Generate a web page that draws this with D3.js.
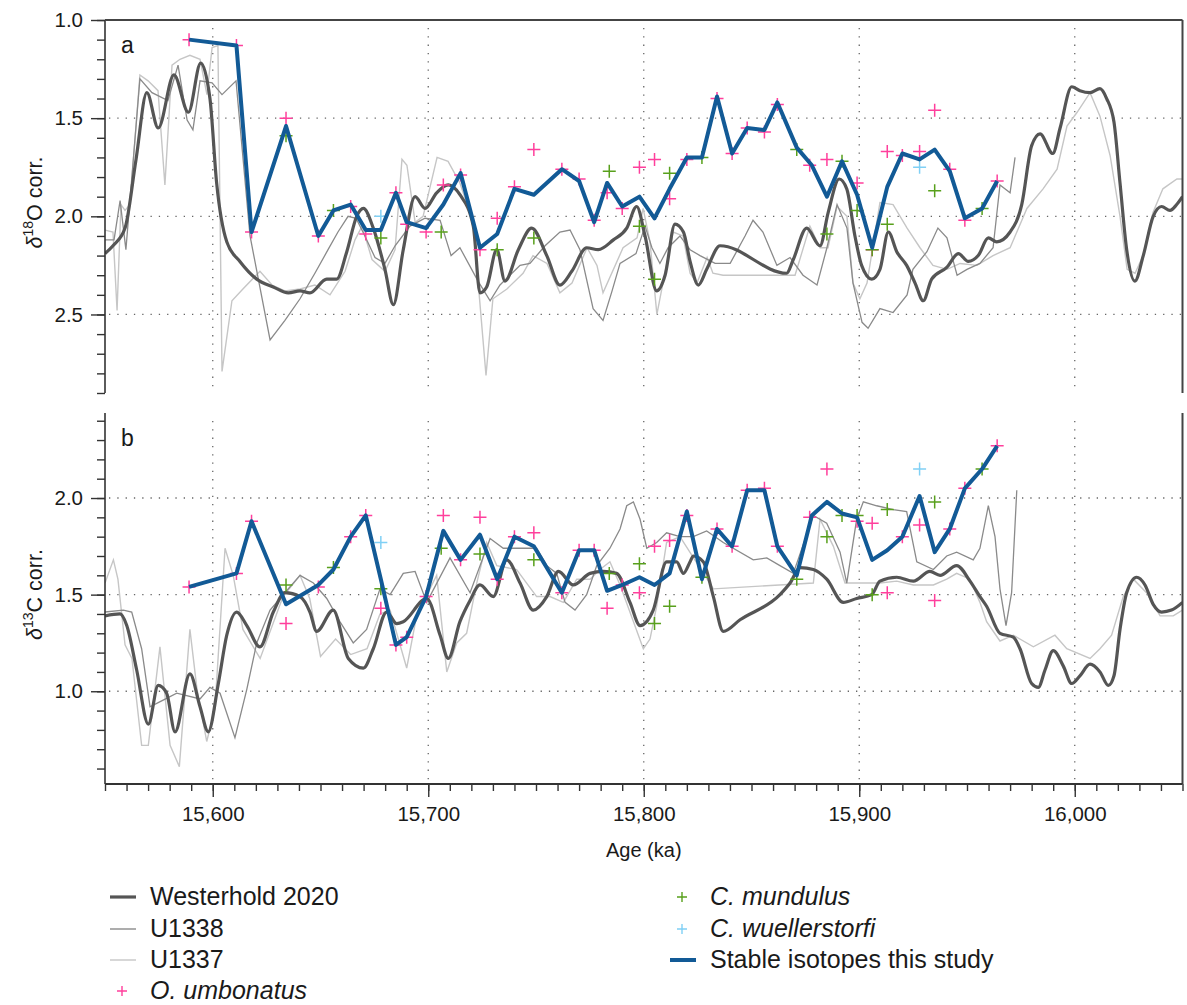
<!DOCTYPE html>
<html lang="en">
<head>
<meta charset="UTF-8">
<title>Stable isotopes</title>
<style>
  body { margin: 0; background: #fff; }
  svg text { font-family: "Liberation Sans", Arial, Helvetica, sans-serif; fill: #1a1a1a; }
</style>
</head>
<body>
<script src="https://d3js.org/d3.v7.min.js"></script>
<script>
// ---- data (age ka, value) ----
const studyAge = [15589, 15611, 15618, 15634, 15649, 15656, 15664, 15671, 15678, 15685, 15690, 15699, 15707, 15715, 15724, 15732, 15740, 15749, 15762, 15770, 15777, 15783, 15790, 15798, 15805, 15812, 15820, 15827, 15834, 15841, 15848, 15856, 15862, 15871, 15878, 15885, 15892, 15899, 15906, 15913, 15920, 15928, 15935, 15942, 15949, 15957, 15964];
const studyD18O = [1.10, 1.13, 2.08, 1.54, 2.10, 1.97, 1.94, 2.07, 2.07, 1.88, 2.03, 2.06, 1.94, 1.78, 2.16, 2.09, 1.86, 1.89, 1.76, 1.82, 2.03, 1.83, 1.95, 1.90, 2.01, 1.86, 1.70, 1.70, 1.39, 1.68, 1.55, 1.56, 1.42, 1.65, 1.74, 1.90, 1.72, 1.89, 2.16, 1.85, 1.68, 1.71, 1.66, 1.77, 2.01, 1.96, 1.82];
const studyD13C = [1.54, 1.61, 1.88, 1.45, 1.55, 1.63, 1.80, 1.91, 1.58, 1.24, 1.28, 1.49, 1.83, 1.68, 1.81, 1.58, 1.80, 1.75, 1.51, 1.73, 1.73, 1.52, 1.55, 1.59, 1.55, 1.61, 1.93, 1.58, 1.84, 1.75, 2.04, 2.04, 1.75, 1.60, 1.91, 1.98, 1.92, 1.90, 1.68, 1.73, 1.80, 2.01, 1.72, 1.84, 2.05, 2.15, 2.27];

const umbonatusO = [[15589,1.10],[15611,1.13],[15618,2.08],[15634,1.50],[15649,2.10],[15664,1.95],[15671,2.09],[15685,1.88],[15690,2.04],[15699,2.08],[15707,1.84],[15715,1.79],[15724,2.17],[15732,2.01],[15740,1.85],[15749,1.66],[15762,1.76],[15770,1.81],[15777,2.02],[15783,1.88],[15790,1.96],[15798,1.75],[15805,1.71],[15812,1.91],[15820,1.71],[15834,1.40],[15841,1.68],[15848,1.55],[15856,1.57],[15862,1.43],[15877,1.74],[15885,1.71],[15899,1.83],[15906,2.17],[15913,1.67],[15920,1.69],[15928,1.67],[15935,1.46],[15942,1.76],[15949,2.02],[15964,1.82]];
const umbonatusC = [[15589,1.54],[15611,1.61],[15618,1.88],[15634,1.35],[15649,1.54],[15664,1.80],[15671,1.91],[15678,1.43],[15685,1.24],[15690,1.28],[15699,1.49],[15707,1.91],[15715,1.68],[15724,1.90],[15732,1.58],[15740,1.80],[15749,1.82],[15762,1.51],[15770,1.73],[15777,1.73],[15783,1.43],[15790,1.55],[15798,1.51],[15805,1.75],[15812,1.78],[15820,1.91],[15834,1.84],[15841,1.75],[15848,2.04],[15856,2.05],[15862,1.75],[15877,1.90],[15885,2.15],[15899,1.88],[15906,1.87],[15913,1.51],[15920,1.80],[15928,1.86],[15935,1.47],[15942,1.84],[15949,2.05],[15964,2.27]];
const mundulusO = [[15634,1.59],[15656,1.97],[15678,2.11],[15706,2.08],[15732,2.17],[15749,2.11],[15784,1.77],[15798,2.05],[15805,2.32],[15812,1.78],[15827,1.70],[15871,1.66],[15885,2.09],[15892,1.72],[15899,1.97],[15906,2.17],[15913,2.04],[15935,1.87],[15957,1.96]];
const mundulusC = [[15634,1.55],[15656,1.64],[15678,1.53],[15706,1.74],[15724,1.71],[15749,1.68],[15784,1.61],[15798,1.66],[15805,1.35],[15812,1.44],[15827,1.59],[15871,1.58],[15885,1.80],[15892,1.91],[15899,1.91],[15906,1.50],[15913,1.94],[15935,1.98],[15957,2.15]];
const wuellerstorfiO = [[15678,2.00],[15928,1.75]];
const wuellerstorfiC = [[15678,1.77],[15928,2.15]];

const westerholdO = [[15550,2.19],[15553.7,2.15],[15559.3,2.06],[15564.4,1.71],[15569.4,1.37],[15574.7,1.55],[15582,1.28],[15588.7,1.47],[15594.4,1.22],[15598.7,1.40],[15601.8,1.83],[15606.5,2.13],[15612.6,2.23],[15620.4,2.32],[15628.1,2.36],[15635.1,2.39],[15640.5,2.38],[15645.1,2.39],[15652.9,2.32],[15657.5,2.32],[15662.2,2.18],[15666.8,2.00],[15669.9,1.96],[15674.5,2.06],[15679.9,2.27],[15683.8,2.45],[15688.4,2.17],[15693.9,1.90],[15698.5,1.96],[15703.9,1.88],[15709.3,1.84],[15714.7,1.89],[15720.9,2.05],[15724,2.39],[15727.1,2.36],[15731.8,2.17],[15735.6,2.33],[15741.8,2.17],[15748,2.06],[15755,2.20],[15761.1,2.35],[15766.6,2.28],[15773.5,2.16],[15778.9,2.17],[15785.9,2.12],[15792.1,2.06],[15796.7,1.95],[15800.6,2.10],[15806,2.38],[15809.9,2.30],[15814.5,2.04],[15818.4,2.08],[15821.5,2.23],[15825.3,2.35],[15829.2,2.27],[15835.4,2.15],[15866.3,2.29],[15869.4,2.22],[15875.6,2.06],[15881.8,2.15],[15885.6,1.98],[15890.7,1.81],[15894.2,1.86],[15898,2.10],[15901.1,2.25],[15905.8,2.32],[15909.6,2.27],[15913.5,2.08],[15917.4,2.18],[15922,2.25],[15925.9,2.34],[15929.7,2.43],[15933.6,2.32],[15940.6,2.26],[15946,2.19],[15950.6,2.23],[15955.2,2.20],[15959.9,2.11],[15963.8,2.13],[15970,2.08],[15975.4,1.94],[15980,1.64],[15983.9,1.58],[15989.8,1.68],[15993.2,1.55],[15998.6,1.34],[16002.4,1.36],[16007.1,1.37],[16011.7,1.35],[16014.8,1.40],[16018.2,1.52],[16021,1.83],[16024.1,2.17],[16027.9,2.33],[16031.8,2.20],[16036.4,2.00],[16040.3,1.95],[16044.2,1.97],[16047.3,1.94],[16050,1.90]];
const u1338O = [[15550,2.12],[15554.2,2.12],[15557,1.92],[15559.7,2.17],[15566.2,1.30],[15571.8,1.37],[15579.2,1.41],[15583.9,1.23],[15588.1,1.51],[15590.8,1.56],[15594.1,1.31],[15599.7,1.32],[15604.3,1.38],[15610.8,1.31],[15617.3,2.10],[15626.6,2.63],[15633.5,2.53],[15640.5,2.42],[15647.4,2.29],[15653.5,2.17],[15658.1,2.08],[15662.8,2.00],[15666.5,2.01],[15670.6,2.10],[15675.3,2.21],[15679.9,2.24],[15684.6,2.15],[15691.5,2.05],[15698.5,2.01],[15705.5,2.02],[15710.6,2.20],[15714.7,2.16],[15723.1,2.33],[15728.7,2.43],[15733.3,2.35],[15737.9,2.30],[15742.6,2.25],[15747.2,2.24],[15754.2,2.15],[15761.1,2.08],[15765.8,2.07],[15770.4,2.17],[15776.5,2.47],[15781.1,2.53],[15785.3,2.38],[15789,2.24],[15796.4,2.19],[15800.6,2.05],[15803.8,2.16],[15807.5,2.24],[15811.3,2.16],[15816.8,2.10],[15821.5,2.17],[15826.1,2.20],[15833.1,2.24],[15840.1,2.24],[15847,2.10],[15850.7,2.02],[15855.3,2.08],[15861.8,2.25],[15867.9,2.21],[15873.9,2.30],[15880.4,2.35],[15885,2.16],[15889.7,1.94],[15894.3,2.06],[15897.1,2.34],[15901.3,2.54],[15904.1,2.57],[15909.6,2.47],[15915.7,2.49],[15922.2,2.40],[15924.9,2.27],[15931.4,2.18],[15936.5,2.06],[15940.7,2.11],[15945.4,2.30],[15950,2.27],[15956,2.24],[15962.1,2.16],[15965.3,1.84],[15970,1.88],[15972.3,1.70]];
const u1337O = [[15550,2.07],[15553.7,2.08],[15555.6,2.48],[15557.4,1.94],[15559.3,1.97],[15561.6,1.94],[15566.2,1.28],[15570,1.31],[15574.6,1.36],[15577.8,1.84],[15581.1,1.23],[15584.8,1.20],[15589.4,1.18],[15594.1,1.20],[15597.3,1.38],[15599.7,1.14],[15602.4,1.13],[15604.3,2.79],[15608.9,2.43],[15614,2.37],[15621.9,2.28],[15627.5,2.35],[15633.5,2.38],[15640.5,2.37],[15647.4,2.35],[15654.4,2.40],[15661.4,2.28],[15666,2.12],[15669.3,2.05],[15673.9,2.22],[15679.9,2.28],[15684.6,2.17],[15687.8,1.71],[15690.1,1.74],[15693.9,2.03],[15697.6,2.00],[15704.1,1.70],[15709.2,1.72],[15714.7,1.83],[15720.8,2.03],[15726.8,2.81],[15730,2.42],[15736.5,2.37],[15744,2.29],[15748.6,2.20],[15755.1,2.24],[15761.1,2.39],[15766.7,2.34],[15773.7,2.16],[15778.3,2.25],[15781.1,2.39],[15790.4,2.16],[15796.9,2.11],[15799.7,1.96],[15802.9,2.13],[15806.1,2.50],[15808.9,2.34],[15813.6,2.08],[15818.2,2.10],[15821.5,2.29],[15824.7,2.34],[15829.4,2.21],[15832.1,2.29],[15836.8,2.30],[15847.9,2.30],[15870.2,2.30],[15877.1,2.05],[15881.8,2.16],[15885.5,2.16],[15889.7,1.95],[15894.3,2.00],[15897.1,2.34],[15900.3,2.42],[15903.6,2.34],[15909.6,1.93],[15915.7,1.94],[15922.2,2.06],[15928.2,2.16],[15934.2,2.25],[15940.7,2.27],[15946.8,2.24],[15954.6,2.25],[15962.1,2.20],[15970,2.16],[15977.8,1.96],[15985.3,1.86],[15991.8,1.76],[15996.4,1.54],[16001.1,1.47],[16007.1,1.37],[16011.7,1.49],[16016.4,1.69],[16021,2.00],[16024.3,2.27],[16028,2.29],[16031.7,2.20],[16036.3,1.98],[16040.9,1.86],[16047.4,1.81],[16050,1.81]];

const westerholdC = [[15550,1.39],[15557,1.40],[15560.1,1.34],[15564.7,1.11],[15570.1,0.83],[15574.7,1.03],[15578.6,0.99],[15582.5,0.79],[15589.4,1.09],[15594.1,0.92],[15597.9,0.79],[15602.6,1.04],[15606.5,1.29],[15611.1,1.41],[15615.8,1.34],[15621.9,1.23],[15628.1,1.41],[15633.5,1.51],[15640.5,1.49],[15645.1,1.41],[15648.2,1.31],[15655.9,1.42],[15662.9,1.17],[15669.9,1.12],[15674.5,1.22],[15680.7,1.41],[15685.4,1.35],[15688.4,1.36],[15699.3,1.48],[15705.5,1.29],[15709.3,1.17],[15714.7,1.36],[15719.4,1.47],[15724,1.55],[15730.2,1.49],[15736.4,1.68],[15742.6,1.56],[15748.7,1.42],[15755,1.49],[15760.4,1.62],[15767.3,1.55],[15775.1,1.61],[15781.2,1.62],[15787.4,1.61],[15793.6,1.46],[15798.3,1.34],[15804.4,1.42],[15810.6,1.67],[15815.3,1.67],[15818.4,1.61],[15821.5,1.67],[15823,1.70],[15827.6,1.67],[15832.3,1.49],[15836.9,1.31],[15844.7,1.37],[15863.2,1.50],[15867.9,1.56],[15872.5,1.64],[15878.7,1.63],[15884.9,1.58],[15892.6,1.46],[15898.8,1.48],[15905.8,1.50],[15909.6,1.57],[15917.4,1.59],[15925.1,1.57],[15932.8,1.62],[15937.5,1.60],[15945.2,1.65],[15951.4,1.57],[15956,1.49],[15959.1,1.44],[15965.3,1.30],[15971.5,1.28],[15974.6,1.22],[15980,1.04],[15983.1,1.02],[15986.2,1.11],[15990,1.21],[15994.7,1.13],[15998.6,1.04],[16002.4,1.08],[16007.1,1.14],[16011.7,1.10],[16015.6,1.03],[16018.2,1.08],[16021,1.32],[16024.1,1.51],[16028.7,1.59],[16032.6,1.55],[16036.4,1.45],[16040.3,1.41],[16044.9,1.42],[16050,1.46]];
const u1338C = [[15550,1.41],[15558.5,1.42],[15562.4,1.41],[15567,1.22],[15570.9,0.92],[15576.3,0.95],[15583.3,0.99],[15594.1,0.96],[15598.7,1.02],[15603.4,0.99],[15610.3,0.76],[15615.8,1.01],[15620.4,1.25],[15626.6,1.42],[15634.3,1.52],[15640.5,1.60],[15646.7,1.56],[15652.9,1.48],[15659,1.36],[15665.2,1.25],[15671.4,1.32],[15677.6,1.53],[15682.3,1.50],[15688.4,1.61],[15693.9,1.62],[15699.3,1.46],[15710.1,1.69],[15719.4,1.51],[15728.7,1.79],[15734.8,1.74],[15744.1,1.74],[15750.3,1.74],[15755,1.65],[15759.6,1.61],[15763.5,1.46],[15768.1,1.42],[15773.5,1.50],[15778.2,1.65],[15784.3,1.74],[15789,1.84],[15792.1,1.96],[15795.2,1.98],[15798.3,1.89],[15801.4,1.74],[15806,1.77],[15810.6,1.82],[15816.8,1.80],[15823,1.80],[15829.2,1.83],[15836.9,1.77],[15850.8,1.68],[15857.1,1.69],[15863.2,1.65],[15869.4,1.61],[15878.7,1.91],[15884.9,1.87],[15891.1,1.72],[15894.2,1.56],[15898.8,1.89],[15901.9,1.98],[15908.1,1.96],[15915.8,1.94],[15922,1.93],[15926.7,1.67],[15934.4,1.63],[15940.6,1.70],[15945.2,1.72],[15952.9,1.68],[15956,1.74],[15959.9,1.96],[15963,1.80],[15965.3,1.53],[15968.1,1.34],[15970.7,1.51],[15973.1,2.04]];
const u1337C = [[15550,1.56],[15553.9,1.68],[15556,1.58],[15559.3,1.24],[15562.5,1.17],[15567,0.72],[15570.1,0.72],[15575.5,1.23],[15580.2,0.72],[15584.5,0.61],[15589.4,1.32],[15592.7,1.01],[15597.2,0.74],[15601,0.91],[15605.7,1.74],[15609.5,1.60],[15614,1.32],[15622,1.17],[15632.6,1.49],[15640.5,1.60],[15645,1.48],[15650,1.18],[15657,1.27],[15664,1.19],[15671.6,1.22],[15677.6,1.40],[15682.3,1.42],[15690,1.12],[15694.6,1.39],[15703.9,1.60],[15708.6,1.10],[15713.2,1.25],[15717.8,1.30],[15722.5,1.56],[15727.1,1.77],[15731.8,1.65],[15741,1.63],[15750.3,1.49],[15756.5,1.49],[15762.7,1.46],[15768.9,1.58],[15775.1,1.58],[15779.7,1.63],[15784.3,1.67],[15789,1.55],[15799.8,1.22],[15802.9,1.27],[15806,1.44],[15810.6,1.77],[15816.8,1.80],[15832.3,1.53],[15878.7,1.56],[15881.8,1.89],[15888,1.75],[15893.4,1.56],[15900.3,1.56],[15909.6,1.56],[15917.4,1.57],[15925.1,1.55],[15934.4,1.55],[15940.6,1.58],[15945.2,1.61],[15951.4,1.58],[15956,1.46],[15959.1,1.36],[15965.3,1.26],[15971.5,1.29],[15980.8,1.23],[15990.8,1.29],[15996.3,1.22],[16007.1,1.17],[16011.7,1.22],[16017.1,1.29],[16022.5,1.49],[16027.2,1.58],[16033.3,1.51],[16039.6,1.39],[16045.7,1.39],[16050,1.42]];

const ageTicks = [15600, 15700, 15800, 15900, 16000];
const oTicks = [1.0, 1.5, 2.0, 2.5];
const cTicks = [1.0, 1.5, 2.0];

// ---- layout ----
const W = 1187, H = 1005;
const left = 105, right = 1182.5;
const colWest = '#555555', col1338 = '#8a8a8a', col1337 = '#c6c6c6';
const colPink = '#ff3f9c', colGreen = '#58a01c', colCyan = '#80d0f5', colBlue = '#125a96';
const tickFont = 20.5;

const svg = d3.select('body').append('svg')
  .attr('width', W).attr('height', H);

const x = d3.scaleLinear().domain([15550, 16050]).range([left, right]);
const yA = d3.scaleLinear().domain([1.0, 2.9]).range([20, 393]);
const yB = d3.scaleLinear().domain([0.52, 2.44]).range([784, 413]);

const plus = 'M-6.5,0H6.5M0,-6.5V6.5';

function drawPanel(y, o) {
  const [y0, y1] = d3.extent(y.range());
  const g = svg.append('g');

  // dotted grid
  g.selectAll('.vg').data(ageTicks).join('line')
    .attr('x1', d => x(d)).attr('x2', d => x(d))
    .attr('y1', y0 + 8).attr('y2', y1 - 2)
    .attr('stroke', '#666').attr('stroke-width', 1.3)
    .attr('stroke-dasharray', '1.3 7');
  g.selectAll('.hg').data(o.ticks.filter(d => d > y.domain()[0] + 0.01 && d < y.domain()[1] - 0.01 && d !== 1.0 || o.name === 'b' && d === 1.0)).join('line')
    .attr('x1', left + 4).attr('x2', right)
    .attr('y1', d => y(d)).attr('y2', d => y(d))
    .attr('stroke', '#666').attr('stroke-width', 1.3)
    .attr('stroke-dasharray', '1.3 7');

  const line = d3.line().x(d => x(d[0])).y(d => y(d[1]));
  const clip = 'clip-' + o.name;
  svg.append('clipPath').attr('id', clip).append('rect')
    .attr('x', left).attr('y', y0).attr('width', right - left).attr('height', y1 - y0);
  const lines = g.append('g').attr('clip-path', `url(#${clip})`);

  lines.append('path').datum(o.u1337).attr('d', line)
    .attr('fill', 'none').attr('stroke', col1337).attr('stroke-width', 1.4);
  lines.append('path').datum(o.u1338).attr('d', line)
    .attr('fill', 'none').attr('stroke', col1338).attr('stroke-width', 1.3);
  lines.append('path').datum(o.west).attr('d', line.curve(d3.curveMonotoneX))
    .attr('fill', 'none').attr('stroke', colWest).attr('stroke-width', 3.2);
  line.curve(d3.curveLinear);

  const marks = (data, col) => g.append('g').selectAll('path').data(data).join('path')
    .attr('transform', d => `translate(${x(d[0])},${y(d[1])})`)
    .attr('d', plus).attr('stroke', col).attr('stroke-width', 1.5).attr('fill', 'none');
  marks(o.umb, colPink);
  marks(o.mun, colGreen);
  marks(o.wue, colCyan);

  const study = studyAge.map((a, i) => [a, o.study[i]]);
  g.append('path').datum(study).attr('d', line)
    .attr('fill', 'none').attr('stroke', colBlue).attr('stroke-width', 4)
    .attr('stroke-linejoin', 'round');

  // left axis: minor ticks every 0.1, labelled majors every 0.5
  const minor = d3.range(Math.ceil(y.domain()[0] * 10 - 1e-6), Math.floor(y.domain()[1] * 10 + 1e-6) + 1).map(d => d / 10);
  const ax = g.append('g').attr('transform', `translate(${left},0)`);
  ax.call(d3.axisLeft(y).tickValues(minor).tickSize(8).tickFormat('').tickSizeOuter(0));
  ax.select('.domain').remove();
  const axM = g.append('g').attr('transform', `translate(${left},0)`);
  axM.call(d3.axisLeft(y).tickValues(o.ticks).tickSize(14).tickPadding(8)
    .tickFormat(d3.format('.1f')).tickSizeOuter(0));
  axM.select('.domain').remove();
  g.selectAll('.tick line').attr('stroke', '#333').attr('stroke-width', 1.4);
  axM.selectAll('text').attr('font-size', tickFont).attr('fill', '#1a1a1a')
    .style('font-family', '"Liberation Sans", Arial, sans-serif');
  g.append('line').attr('x1', left).attr('x2', left).attr('y1', y0).attr('y2', y1)
    .attr('stroke', '#333').attr('stroke-width', 1.6);
  // right border
  g.append('line').attr('x1', right).attr('x2', right).attr('y1', y0).attr('y2', y1)
    .attr('stroke', '#444').attr('stroke-width', 2);

  // panel letter
  g.append('text').attr('x', 121).attr('y', y0 + 33).attr('font-size', 23).text(o.name);

  // y title
  const t = g.append('text').attr('transform', `translate(42,${(y0 + y1) / 2 - 4}) rotate(-90)`)
    .attr('text-anchor', 'middle').attr('font-size', 21.5);
  t.append('tspan').style('font-style', 'italic').text('δ');
  t.append('tspan').attr('font-size', 14).attr('dy', -9).text(o.iso);
  t.append('tspan').attr('dy', 9).text(o.el + '  corr.');
}

drawPanel(yA, { name: 'a', ticks: oTicks, iso: '18', el: 'O',
  west: westerholdO, u1338: u1338O, u1337: u1337O, umb: umbonatusO, mun: mundulusO, wue: wuellerstorfiO, study: studyD18O });
drawPanel(yB, { name: 'b', ticks: cTicks, iso: '13', el: 'C',
  west: westerholdC, u1338: u1338C, u1337: u1337C, umb: umbonatusC, mun: mundulusC, wue: wuellerstorfiC, study: studyD13C });

// top border of panel a
svg.append('line').attr('x1', left).attr('x2', right).attr('y1', 20).attr('y2', 20)
  .attr('stroke', '#444').attr('stroke-width', 2);

// bottom age axis
const xa = svg.append('g').attr('transform', 'translate(0,784)');
xa.call(d3.axisBottom(x).tickValues(d3.range(15550, 16051, 10)).tickSize(7).tickFormat('').tickSizeOuter(0));
xa.select('.domain').remove();
const xm = svg.append('g').attr('transform', 'translate(0,784)');
xm.call(d3.axisBottom(x).tickValues(ageTicks).tickSize(13).tickPadding(9)
  .tickFormat(d3.format(',')).tickSizeOuter(0));
xm.select('.domain').remove();
svg.selectAll('.tick line').attr('stroke', '#333').attr('stroke-width', 1.4);
xm.selectAll('text').attr('font-size', tickFont).attr('fill', '#1a1a1a')
  .style('font-family', '"Liberation Sans", Arial, sans-serif');
svg.append('line').attr('x1', left).attr('x2', right).attr('y1', 784).attr('y2', 784)
  .attr('stroke', '#333').attr('stroke-width', 1.8);
svg.append('text').attr('x', (left + right) / 2).attr('y', 857)
  .attr('text-anchor', 'middle').attr('font-size', 20).text('Age (ka)');

// legend
const legendItems = [
  { label: 'Westerhold 2020', type: 'line', col: colWest, w: 3.2, x: 110, y: 897 },
  { label: 'U1338', type: 'line', col: col1338, w: 1.4, x: 110, y: 929 },
  { label: 'U1337', type: 'line', col: col1337, w: 1.4, x: 110, y: 960 },
  { label: 'O. umbonatus', type: 'mark', col: colPink, x: 110, y: 991, it: true },
  { label: 'C. mundulus', type: 'mark', col: colGreen, x: 670, y: 897, it: true },
  { label: 'C. wuellerstorfi', type: 'mark', col: colCyan, x: 670, y: 929, it: true },
  { label: 'Stable isotopes this study', type: 'line', col: colBlue, w: 4, x: 670, y: 960 }
];
const lg = svg.append('g').selectAll('g').data(legendItems).join('g')
  .attr('transform', d => `translate(${d.x},${d.y})`);
lg.filter(d => d.type === 'line').append('line')
  .attr('x1', 0).attr('x2', 26).attr('stroke', d => d.col).attr('stroke-width', d => d.w);
lg.filter(d => d.type === 'mark').append('path')
  .attr('transform', 'translate(12,0)').attr('d', 'M-5,0H5M0,-5V5')
  .attr('stroke', d => d.col).attr('stroke-width', 1.4);
lg.append('text').attr('x', 40).attr('y', 8).attr('font-size', 25)
  .style('font-style', d => d.it ? 'italic' : 'normal').text(d => d.label);
</script>
</body>
</html>
